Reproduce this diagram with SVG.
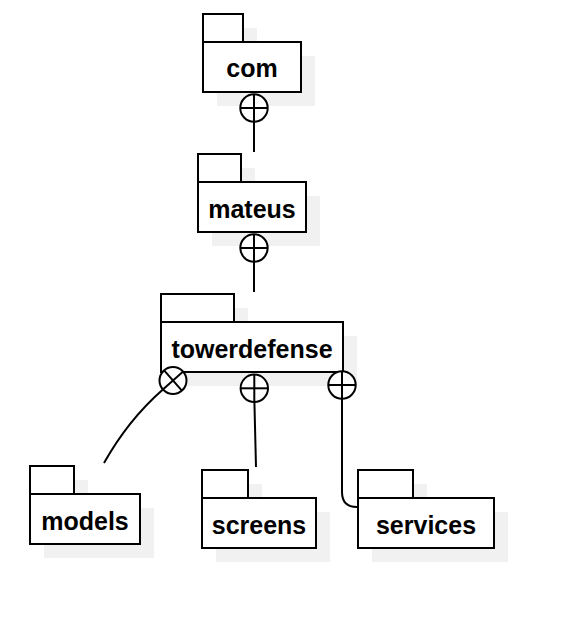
<svg xmlns="http://www.w3.org/2000/svg" width="564" height="634" viewBox="0 0 564 634">
<style>
.sh{fill:#f1f1f1;stroke:none}
.bx{fill:#fff;stroke:#000;stroke-width:2}
.lb{font-family:"Liberation Sans",Arial,Helvetica,sans-serif;font-weight:bold;font-size:25px;fill:#000;text-anchor:middle}
.cn{fill:none;stroke:#000;stroke-width:2}
.ci{fill:#fff;stroke:#000;stroke-width:2}
</style>
<rect width="564" height="634" fill="#fff"/>
<g id="com">
<rect class="sh" x="217" y="28" width="40" height="28"/>
<rect class="sh" x="217" y="56" width="98" height="50"/>
<rect class="bx" x="203" y="14" width="40" height="28"/>
<rect class="bx" x="203" y="42" width="98" height="50"/>
<text class="lb" x="252" y="77">com</text>
</g>
<g id="mateus">
<rect class="sh" x="212" y="168" width="43" height="28"/>
<rect class="sh" x="212" y="196" width="108" height="50"/>
<rect class="bx" x="198" y="154" width="43" height="28"/>
<rect class="bx" x="198" y="182" width="108" height="50"/>
<text class="lb" x="252" y="218">mateus</text>
</g>
<g id="towerdefense">
<rect class="sh" x="175" y="308" width="73" height="28"/>
<rect class="sh" x="175" y="336" width="182" height="50"/>
<rect class="bx" x="161" y="294" width="73" height="28"/>
<rect class="bx" x="161" y="322" width="182" height="50"/>
<text class="lb" x="252" y="358">towerdefense</text>
</g>
<g id="models">
<rect class="sh" x="44" y="480" width="44" height="28"/>
<rect class="sh" x="44" y="508" width="110" height="50"/>
<rect class="bx" x="30" y="466" width="44" height="28"/>
<rect class="bx" x="30" y="494" width="110" height="50"/>
<text class="lb" x="85" y="530">models</text>
</g>
<g id="screens">
<rect class="sh" x="216" y="484" width="46" height="28"/>
<rect class="sh" x="216" y="512" width="114" height="50"/>
<rect class="bx" x="202" y="470" width="46" height="28"/>
<rect class="bx" x="202" y="498" width="114" height="50"/>
<text class="lb" x="259" y="534">screens</text>
</g>
<g id="services">
<rect class="sh" x="372" y="484" width="55" height="28"/>
<rect class="sh" x="372" y="512" width="136" height="50"/>
<rect class="bx" x="358" y="470" width="55" height="28"/>
<rect class="bx" x="358" y="498" width="136" height="50"/>
<text class="lb" x="426" y="534">services</text>
</g>
<g id="connectors">
<line class="cn" x1="254" y1="122" x2="254" y2="152"/>
<circle class="ci" cx="254" cy="108" r="13.7"/>
<line class="cn" x1="254" y1="94.3" x2="254" y2="121.7"/>
<line class="cn" x1="240.3" y1="108" x2="267.7" y2="108"/>

<line class="cn" x1="254" y1="262" x2="254" y2="292"/>
<circle class="ci" cx="254" cy="248" r="13.7"/>
<line class="cn" x1="254" y1="234.3" x2="254" y2="261.7"/>
<line class="cn" x1="240.3" y1="248" x2="267.7" y2="248"/>

<path class="cn" d="M162.9,389.4 Q128,420 104,463"/>
<circle class="ci" cx="173" cy="380.5" r="13.5"/>
<line class="cn" x1="162.9" y1="389.4" x2="183.1" y2="371.6"/>
<line class="cn" x1="164.1" y1="370.4" x2="181.9" y2="390.6"/>

<line class="cn" x1="254.4" y1="402" x2="256" y2="467"/>
<circle class="ci" cx="254.3" cy="388.3" r="13.7"/>
<line class="cn" x1="254.3" y1="374.6" x2="254.3" y2="402"/>
<line class="cn" x1="240.6" y1="388.3" x2="268" y2="388.3"/>

<path class="cn" d="M342,398 L342,492 Q342,507 357,507"/>
<circle class="ci" cx="342" cy="385" r="13.7"/>
<line class="cn" x1="342" y1="371.3" x2="342" y2="398.7"/>
<line class="cn" x1="328.3" y1="385" x2="355.7" y2="385"/>
</g>
</svg>
